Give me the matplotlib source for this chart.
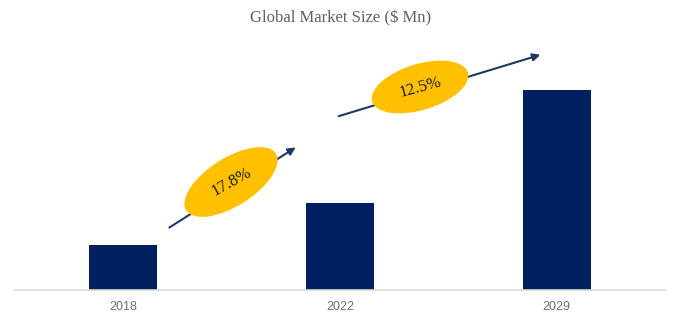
import matplotlib
matplotlib.use("Agg")
import matplotlib.pyplot as plt
from matplotlib.patches import Ellipse, FancyArrowPatch
import numpy as np

# Market size by year
years = ["2018", "2022", "2029"]
market_size = [45, 87, 200]

# Growth rates between periods
cagr_labels = ["17.8%", "12.5%"]

W, H = 681, 322
fig = plt.figure(figsize=(W / 100, H / 100), dpi=100)

ax = fig.add_axes([15 / W, (H - 290) / H, 650 / W, 260 / H])
x = np.arange(len(years))
ax.bar(x, market_size, width=0.315, color="#002060", zorder=2)
ax.set_xlim(-0.5, len(years) - 0.5)
ax.set_ylim(0, 260)
ax.set_yticks([])
ax.set_xticks(x)
ax.set_xticklabels(years, fontsize=9, color="#707070", family="Liberation Sans")
ax.tick_params(axis="x", length=0, pad=8)
for s in ["top", "right", "left"]:
    ax.spines[s].set_visible(False)
ax.spines["bottom"].set_color("#D9D9D9")
ax.spines["bottom"].set_linewidth(1.2)

fig.text(0.5, 1 - 18 / H, "Global Market Size ($ Mn)", ha="center", va="center",
         fontsize=12, color="#606060", family="Liberation Serif")

# Overlay in pixel space for the growth arrows and badges
ov = fig.add_axes([0, 0, 1, 1])
ov.set_xlim(0, W)
ov.set_ylim(H, 0)
ov.axis("off")
ov.patch.set_alpha(0)

arrows = [((167, 229), (298, 146)), ((336, 117), (543, 54))]
badges = [((231, 182), 106, 48), ((420, 87), 100, 46)]
for (p0, p1), (c, w, h), lab in zip(arrows, badges, cagr_labels):
    ov.add_patch(FancyArrowPatch(p0, p1, arrowstyle="-|>", mutation_scale=11,
                                 color="#1F3864", lw=1.5, zorder=3))
    ang = np.degrees(np.arctan2(p0[1] - p1[1], p1[0] - p0[0]))
    ov.add_patch(Ellipse(c, w, h, angle=-ang, facecolor="#FFC000",
                         edgecolor="none", zorder=4))
    ov.text(c[0], c[1], lab, ha="center", va="center", rotation=ang * 0.9,
            rotation_mode="anchor", fontsize=12, family="Liberation Serif",
            color="#1a1a1a", zorder=5)

fig.savefig("out.png", dpi=100)
